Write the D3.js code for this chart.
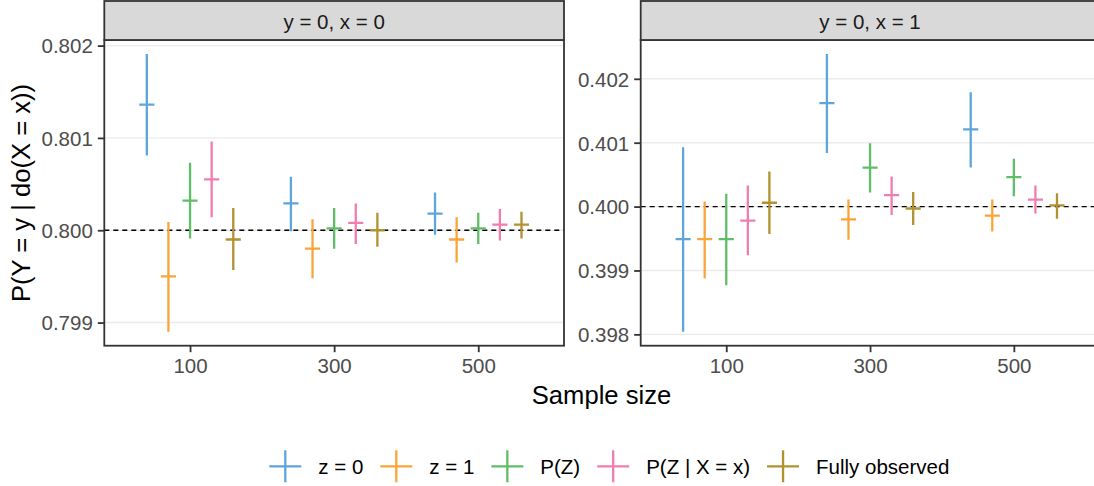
<!DOCTYPE html>
<html>
<head>
<meta charset="utf-8">
<script src="https://cdn.jsdelivr.net/npm/d3@7"></script>
<style>
  html, body { margin: 0; padding: 0; background: #ffffff; }
  svg { display: block; font-family: "Liberation Sans", Arial, Helvetica, sans-serif; }
</style>
</head>
<body>
<svg id="chart" width="1094" height="486"></svg>
<script>
// ---------------- data ----------------
const panelLabels = ["y = 0, x = 0", "y = 0, x = 1"];
const trueValues = [0.8, 0.4];
const sampleSizes = [100, 300, 500];
const methods = ["z = 0", "z = 1", "P(Z)", "P(Z | X = x)", "Fully observed"];
const xTicks = [100, 300, 500];
const yTicksX0 = [0.799, 0.800, 0.801, 0.802];
const yTicksX1 = [0.398, 0.399, 0.400, 0.401, 0.402];

// estimates [sample size][method]
const estX0 = [
  [0.80136, 0.79950, 0.80032, 0.80055, 0.79990],
  [0.80029, 0.79980, 0.80002, 0.80008, 0.80000],
  [0.80018, 0.79990, 0.80002, 0.80006, 0.80006]
];
const loX0 = [
  [0.80081, 0.79890, 0.79991, 0.80014, 0.79957],
  [0.79999, 0.79948, 0.79980, 0.79985, 0.79982],
  [0.79995, 0.79965, 0.79985, 0.79989, 0.79991]
];
const hiX0 = [
  [0.80191, 0.80009, 0.80073, 0.80096, 0.80024],
  [0.80058, 0.80012, 0.80024, 0.80029, 0.80019],
  [0.80041, 0.80014, 0.80019, 0.80023, 0.80020]
];
const estX1 = [
  [0.39949, 0.39949, 0.39949, 0.39978, 0.40006],
  [0.40162, 0.39980, 0.40061, 0.40018, 0.39997],
  [0.40121, 0.39986, 0.40046, 0.40011, 0.40002]
];
const loX1 = [
  [0.39804, 0.39888, 0.39877, 0.39924, 0.39957],
  [0.40084, 0.39948, 0.40022, 0.39987, 0.39971],
  [0.40061, 0.39961, 0.40016, 0.39989, 0.39981]
];
const hiX1 = [
  [0.40093, 0.40008, 0.40020, 0.40033, 0.40055],
  [0.40239, 0.40011, 0.40099, 0.40047, 0.40023],
  [0.40179, 0.40011, 0.40075, 0.40033, 0.40021]
];

// ---------------- styles / layout ----------------
const colors = ["#5DA5DA", "#FAA43A", "#60BD68", "#F17CB0", "#B2912F"];
const dodgeStep = 30;          // sample-size units between methods
const barHalf = 10.5;          // half width of the estimate tick, sample-size units
const smallFont = 20.5, titleFont = 25.6;
const panelTop = 40, panelBottom = 345.7, stripTop = 1;
const panelX = [[104.3, 564.0], [640.7, 1099.4]];
const lw = 2.3;

const svg = d3.select("#chart");
svg.append("rect").attr("width", 1094).attr("height", 486).attr("fill", "#fff");

const offsets = methods.map((m, i) => (i - (methods.length - 1) / 2) * dodgeStep);
const xmin = d3.min(sampleSizes) + d3.min(offsets) - dodgeStep;
const xmax = d3.max(sampleSizes) + d3.max(offsets) + dodgeStep;
const xpad = (xmax - xmin) * 0.05;

const panelData = [
  {est: estX0, lo: loX0, hi: hiX0, ticks: yTicksX0},
  {est: estX1, lo: loX1, hi: hiX1, ticks: yTicksX1}
];

panelData.forEach((pd, p) => {
  const [x0, x1] = panelX[p];
  const x = d3.scaleLinear().domain([xmin - xpad, xmax + xpad]).range([x0, x1]);
  const lo = d3.min(pd.lo.flat()), hi = d3.max(pd.hi.flat());
  const ypad = (hi - lo) * 0.05;
  const y = d3.scaleLinear().domain([lo - ypad, hi + ypad]).range([panelBottom, panelTop]);

  const clipId = "clip" + p;
  svg.append("clipPath").attr("id", clipId).append("rect")
    .attr("x", x0).attr("y", panelTop).attr("width", x1 - x0).attr("height", panelBottom - panelTop);

  const g = svg.append("g");
  // grid
  g.append("g").selectAll("line").data(pd.ticks).join("line")
    .attr("x1", x0).attr("x2", x1)
    .attr("y1", d => y(d)).attr("y2", d => y(d))
    .attr("stroke", "#EBEBEB").attr("stroke-width", 1.4);

  // reference line
  g.append("line")
    .attr("x1", x0).attr("x2", x1)
    .attr("y1", y(trueValues[p])).attr("y2", y(trueValues[p]))
    .attr("stroke", "#000").attr("stroke-width", 1.3).attr("stroke-dasharray", "5,4");

  // marks
  const marks = [];
  sampleSizes.forEach((n, si) => methods.forEach((m, mi) => {
    marks.push({n, mi, xv: n + offsets[mi], est: pd.est[si][mi], lo: pd.lo[si][mi], hi: pd.hi[si][mi]});
  }));
  const mg = g.append("g").attr("clip-path", `url(#${clipId})`);
  const mk = mg.selectAll("g.mark").data(marks).join("g").attr("class", "mark");
  mk.append("line")
    .attr("x1", d => x(d.xv)).attr("x2", d => x(d.xv))
    .attr("y1", d => y(d.lo)).attr("y2", d => y(d.hi))
    .attr("stroke", d => colors[d.mi]).attr("stroke-width", lw);
  mk.append("line")
    .attr("x1", d => x(d.xv - barHalf)).attr("x2", d => x(d.xv + barHalf))
    .attr("y1", d => y(d.est)).attr("y2", d => y(d.est))
    .attr("stroke", d => colors[d.mi]).attr("stroke-width", lw);

  // panel border
  g.append("rect").attr("x", x0).attr("y", panelTop)
    .attr("width", x1 - x0).attr("height", panelBottom - panelTop)
    .attr("fill", "none").attr("stroke", "#333333").attr("stroke-width", 1.8);

  // strip
  g.append("rect").attr("x", x0).attr("y", stripTop)
    .attr("width", x1 - x0).attr("height", panelTop - stripTop)
    .attr("fill", "#D9D9D9").attr("stroke", "#333333").attr("stroke-width", 1.8);
  g.append("text").attr("x", (x0 + x1) / 2).attr("y", 29.3)
    .attr("text-anchor", "middle").attr("font-size", smallFont).attr("fill", "#1A1A1A")
    .text(panelLabels[p]);

  // axes
  const yAxis = d3.axisLeft(y).tickValues(pd.ticks).tickFormat(d3.format(".3f")).tickSize(6.5).tickPadding(5);
  const ya = g.append("g").attr("transform", `translate(${x0},0)`).call(yAxis);
  ya.select(".domain").remove();
  ya.selectAll(".tick line").attr("stroke", "#333333").attr("stroke-width", 1.8);
  ya.selectAll(".tick text").attr("font-size", smallFont).attr("fill", "#4D4D4D")
    .attr("font-family", "Liberation Sans, Arial, sans-serif").attr("dy", "0.36em");

  const xAxis = d3.axisBottom(x).tickValues(xTicks).tickFormat(d3.format("d")).tickSize(6.5).tickPadding(5);
  const xa = g.append("g").attr("transform", `translate(0,${panelBottom})`).call(xAxis);
  xa.select(".domain").remove();
  xa.selectAll(".tick line").attr("stroke", "#333333").attr("stroke-width", 1.8);
  xa.selectAll(".tick text").attr("font-size", smallFont).attr("fill", "#4D4D4D")
    .attr("font-family", "Liberation Sans, Arial, sans-serif").attr("dy", "0.76em");
});

// axis titles
svg.append("text").attr("x", 601.5).attr("y", 403.5).attr("text-anchor", "middle")
  .attr("font-size", titleFont).attr("fill", "#000").text("Sample size");
svg.append("text").attr("transform", "translate(30,193) rotate(-90)").attr("text-anchor", "middle")
  .attr("font-size", titleFont).attr("fill", "#000").text("P(Y = y | do(X = x))");

// legend
const keySize = 32, keyGap = 17, itemGap = 17;
const legY = 466.3;
const lg = svg.append("g");
let cx = 269.3;
methods.forEach((m, i) => {
  const kx = cx + keySize / 2;
  lg.append("line").attr("x1", cx).attr("x2", cx + keySize).attr("y1", legY).attr("y2", legY)
    .attr("stroke", colors[i]).attr("stroke-width", lw);
  lg.append("line").attr("x1", kx).attr("x2", kx).attr("y1", legY - keySize / 2).attr("y2", legY + keySize / 2)
    .attr("stroke", colors[i]).attr("stroke-width", lw);
  const t = lg.append("text").attr("x", cx + keySize + keyGap).attr("y", 474)
    .attr("font-size", smallFont).attr("fill", "#000").text(m);
  cx = cx + keySize + keyGap + t.node().getComputedTextLength() + itemGap;
});
</script>
</body>
</html>
